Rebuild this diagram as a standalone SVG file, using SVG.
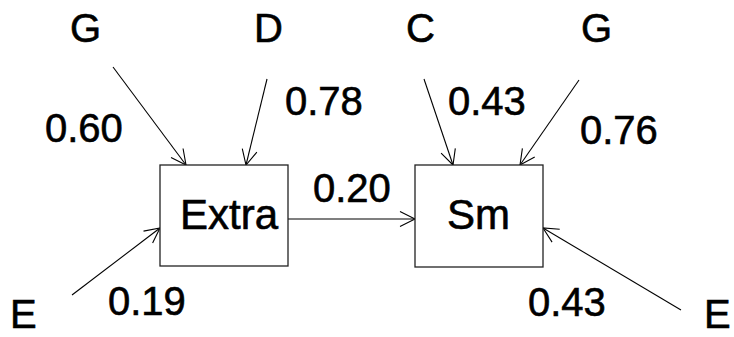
<svg xmlns="http://www.w3.org/2000/svg" width="734" height="337" viewBox="0 0 734 337">
<style>
text{font-family:"Liberation Sans",Arial,sans-serif;font-size:40px;fill:#000;stroke:#000;stroke-width:0.6}
.node{font-size:42px}
.box{fill:#fff;stroke:#222;stroke-width:1.3}
.edge{stroke:#000;stroke-width:1.1;fill:none;marker-end:url(#arr)}
</style>
<defs>
<marker id="arr" markerUnits="userSpaceOnUse" viewBox="-17 -9 19 18" refX="0" refY="0" markerWidth="19" markerHeight="18" orient="auto">
<path d="M-15,-7.5 L0,0 L-15,7.5" fill="none" stroke="#000" stroke-width="1.1"/>
</marker>
</defs>
<rect width="734" height="337" fill="#fff"/>
<g id="connectors">
<line class="edge" x1="113" y1="67" x2="186" y2="165"/>
<line class="edge" x1="267" y1="79" x2="246" y2="165"/>
<line class="edge" x1="72" y1="295" x2="160" y2="228"/>
<line class="edge" x1="288" y1="219" x2="415" y2="219"/>
<line class="edge" x1="424" y1="79" x2="453" y2="165"/>
<line class="edge" x1="579" y1="80" x2="520" y2="165"/>
<line class="edge" x1="681" y1="310" x2="543" y2="228"/>
</g>
<g id="extra">
<rect class="box" x="160" y="165" width="128" height="101"/>
<text class="node" x="180" y="229">Extra</text>
</g>
<g id="sm">
<rect class="box" x="415" y="165" width="128" height="102"/>
<text class="node" x="447" y="229">Sm</text>
</g>
<g id="g-left"><text x="70" y="42">G</text></g>
<g id="d"><text x="254" y="42">D</text></g>
<g id="c"><text x="406" y="42">C</text></g>
<g id="g-right"><text x="581" y="42">G</text></g>
<g id="e-left"><text x="10" y="328">E</text></g>
<g id="e-right"><text x="704" y="328">E</text></g>
<g id="labels">
<text x="45" y="142">0.60</text>
<text x="285" y="115">0.78</text>
<text x="448" y="115">0.43</text>
<text x="580" y="144">0.76</text>
<text x="313" y="202">0.20</text>
<text x="108" y="315">0.19</text>
<text x="528" y="316">0.43</text>
</g>
</svg>
